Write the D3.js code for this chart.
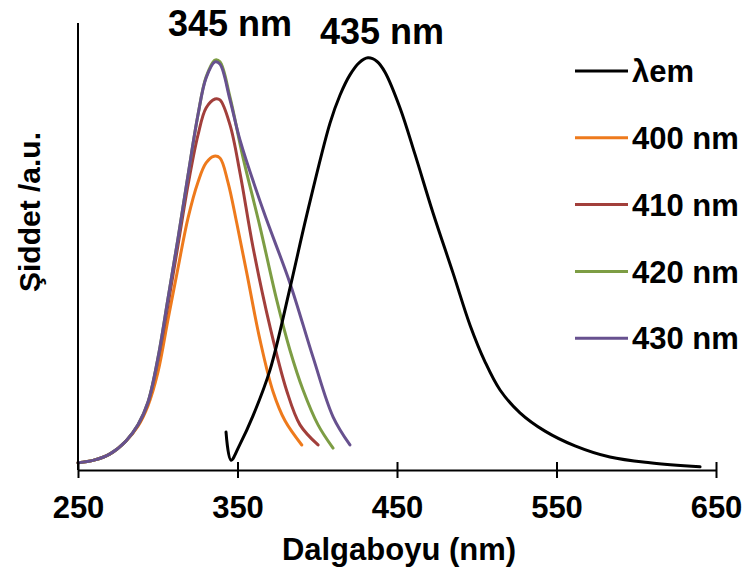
<!DOCTYPE html>
<html>
<head>
<meta charset="utf-8">
<script src="https://cdn.jsdelivr.net/npm/d3@7"></script>
<style>
  html, body { margin: 0; padding: 0; background: #fff; }
  svg text { font-family: "Liberation Sans", Arial, sans-serif; font-weight: bold; fill: #000; }
</style>
</head>
<body>
<svg id="chart" width="745" height="574"></svg>
<script>
// Emission spectrum (λem) and excitation spectra recorded at four emission wavelengths.
// Pairs are [wavelength in nm, intensity in a.u.].
const emission = [
  [342.8, 8.5], [345.9, 2.2], [351.6, 5.8], [359.7, 12.1], [370.4, 22.4], [382.9, 40.7],
  [393.4, 57.0], [408.0, 77.6], [414.3, 83.9], [420.5, 88.4], [426.2, 91.1], [431.8, 92.2],
  [437.5, 91.4], [442.5, 89.0], [451.9, 81.0], [461.3, 70.6], [472.6, 57.5], [485.1, 44.1],
  [495.8, 32.4], [505.2, 24.2], [514.6, 17.9], [527.1, 12.8], [542.8, 8.7], [561.6, 5.4],
  [583.5, 2.9], [608.6, 1.6], [640.0, 0.7]
];
const exc400 = [
  [250.0, 1.6], [260.0, 2.2], [270.1, 3.6], [280.1, 6.5], [287.6, 9.8], [293.9, 14.4],
  [300.2, 22.0], [306.4, 33.6], [312.7, 45.2], [319.0, 56.4], [325.2, 64.4], [330.3, 68.7],
  [335.3, 70.2], [339.0, 69.8], [344.0, 64.4], [349.5, 55.3], [355.8, 44.1], [364.1, 29.1],
  [372.3, 17.5], [379.8, 11.0], [390.3, 5.6]
];
const exc410 = [
  [250.0, 1.6], [260.0, 2.2], [270.1, 3.6], [280.1, 6.5], [287.6, 10.0], [293.9, 15.0],
  [300.2, 24.6], [306.4, 36.9], [312.7, 50.3], [319.0, 63.8], [325.2, 74.9], [330.3, 81.0],
  [335.9, 83.0], [339.0, 82.8], [345.3, 77.2], [351.6, 66.4], [359.7, 49.9], [370.4, 32.0],
  [380.8, 17.8], [389.2, 10.1], [400.5, 5.6]
];
const exc420 = [
  [250.0, 1.6], [260.0, 2.2], [270.1, 3.6], [280.1, 6.5], [287.6, 10.1], [293.9, 15.2],
  [300.2, 25.2], [306.4, 38.3], [312.7, 51.8], [319.0, 66.0], [325.2, 79.4], [330.3, 87.9],
  [335.9, 91.7], [339.0, 91.3], [345.3, 83.4], [353.4, 70.0], [364.1, 54.4], [374.6, 38.0],
  [382.9, 26.8], [391.1, 17.9], [400.5, 10.1], [409.9, 4.9]
];
const exc430 = [
  [250.0, 1.6], [260.0, 2.2], [270.1, 3.6], [280.1, 6.5], [287.6, 10.1], [293.9, 15.2],
  [300.2, 25.2], [306.4, 38.3], [312.7, 51.8], [319.0, 66.0], [325.2, 79.4], [330.3, 87.7],
  [335.9, 91.3], [339.0, 90.8], [345.3, 82.8], [351.6, 73.8], [366.0, 58.2], [382.9, 41.8],
  [397.3, 25.3], [409.9, 11.9], [420.5, 5.6]
];

const seriesNames = ["\u03bbem", "400 nm", "410 nm", "420 nm", "430 nm"];
const seriesData = [emission, exc400, exc410, exc420, exc430];
const seriesColors = ["#000000", "#EE7A1C", "#A23F3B", "#7D9D44", "#67518F"];
const xTicks = [250, 350, 450, 550, 650];
const peakLabels = ["345 nm", "435 nm"];

const svg = d3.select("#chart");
const x = d3.scaleLinear().domain([250, 650]).range([78, 716]);
const y = d3.scaleLinear().domain([0, 100]).range([470, 23]);

const line = d3.line()
  .x(d => x(d[0]))
  .y(d => y(d[1]))
  .curve(d3.curveCatmullRom.alpha(0.5));

// Excitation spectra underneath, emission on top
const drawOrder = [1, 2, 3, 4, 0];
drawOrder.forEach(i => {
  svg.append("path")
    .datum(seriesData[i])
    .attr("d", line)
    .attr("fill", "none")
    .attr("stroke", seriesColors[i])
    .attr("stroke-width", 3)
    .attr("stroke-linejoin", "round")
    .attr("stroke-linecap", "round");
});

// X axis with ticks crossing the baseline
const xAxis = svg.append("g")
  .attr("transform", `translate(0,${y(0)})`)
  .call(d3.axisBottom(x).tickValues(xTicks).tickSize(8).tickSizeOuter(0).tickPadding(18));
xAxis.select(".domain").attr("stroke", "#000").attr("stroke-width", 2);
xAxis.selectAll(".tick line").attr("stroke", "#000").attr("stroke-width", 2).attr("y1", -8);
xAxis.selectAll(".tick text").attr("font-size", 31).attr("fill", "#000");

// Y axis: plain line, no ticks
svg.append("line")
  .attr("x1", x(250)).attr("x2", x(250))
  .attr("y1", y(100)).attr("y2", y(0))
  .attr("stroke", "#000").attr("stroke-width", 2);

// Axis titles
svg.append("text")
  .attr("x", 399).attr("y", 560)
  .attr("text-anchor", "middle")
  .attr("font-size", 31)
  .text("Dalgaboyu (nm)");

svg.append("text")
  .attr("transform", "translate(40,212) rotate(-90)")
  .attr("text-anchor", "middle")
  .attr("font-size", 30)
  .text("Şiddet /a.u.");

// Peak annotations above the excitation and emission maxima
svg.append("text")
  .attr("x", 230).attr("y", 36)
  .attr("text-anchor", "middle")
  .attr("font-size", 36)
  .text(peakLabels[0]);
svg.append("text")
  .attr("x", 382).attr("y", 44)
  .attr("text-anchor", "middle")
  .attr("font-size", 36)
  .text(peakLabels[1]);

// Legend
const legend = svg.append("g");
seriesNames.forEach((name, i) => {
  const ly = 71 + i * 66.8;
  legend.append("line")
    .attr("x1", 575).attr("x2", 628)
    .attr("y1", ly).attr("y2", ly)
    .attr("stroke", seriesColors[i]).attr("stroke-width", 3);
  legend.append("text")
    .attr("x", 632).attr("y", ly)
    .attr("dy", "0.36em")
    .attr("font-size", 31)
    .text(name);
});
</script>
</body>
</html>
